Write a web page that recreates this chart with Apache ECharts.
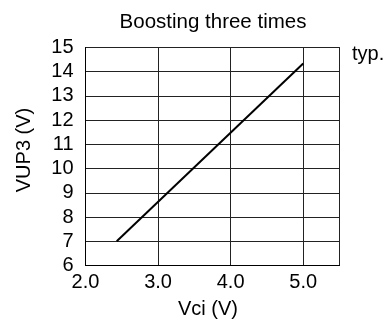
<!DOCTYPE html>
<html>
<head>
<meta charset="utf-8">
<script src="https://cdn.jsdelivr.net/npm/echarts@6/dist/echarts.min.js"></script>
<style>
html,body{margin:0;padding:0;background:#fff;}
#c{width:388px;height:326px;}
</style>
</head>
<body>
<div id="c"></div>
<script>
const titleText = "Boosting three times";
const xName = "Vci (V)";
const yName = "VUP3 (V)";
const noteText = "typ.";
const vciValues = [2.43, 5.0];
const vup3Values = [7.0, 14.34];
const xTicks = [2.0, 3.0, 4.0, 5.0];
const yTicks = [6, 7, 8, 9, 10, 11, 12, 13, 14, 15];

const FONT = "Liberation Sans, Arial, sans-serif";
const chart = echarts.init(document.getElementById('c'), null, {renderer: 'canvas'});
chart.setOption({
  animation: false,
  backgroundColor: '#fff',
  grid: {left: 85.5, top: 47.5, right: 48.5, bottom: 60.5, show: true, borderColor: '#000', borderWidth: 1, containLabel: false},
  title: {
    text: titleText, left: 208, top: 7, textAlign: 'center',
    textStyle: {fontFamily: FONT, fontSize: 20.5, fontWeight: 'normal', color: '#000'}
  },
  xAxis: {
    type: 'value', min: xTicks[0], max: 5.5, interval: 1,
    axisLine: {show: true, lineStyle: {color: '#000', width: 1}},
    axisTick: {show: false},
    splitLine: {show: true, lineStyle: {color: '#222', width: 1}},
    axisLabel: {margin: 7, fontFamily: FONT, fontSize: 20, color: '#000',
      formatter: v => xTicks.indexOf(v) >= 0 ? v.toFixed(1) : ''}
  },
  yAxis: {
    type: 'value', min: yTicks[0], max: yTicks[yTicks.length - 1], interval: 1,
    axisLine: {show: true, lineStyle: {color: '#000', width: 1}},
    axisTick: {show: false},
    splitLine: {show: true, lineStyle: {color: '#222', width: 1}},
    axisLabel: {margin: 12, fontFamily: FONT, fontSize: 20, color: '#000'}
  },
  graphic: [
    {type: 'text', left: 352, top: 44, style: {text: noteText, font: '20px ' + FONT, fill: '#000'}},
    {type: 'text', x: 208, y: 309, style: {text: xName, font: '20px ' + FONT, fill: '#000', align: 'center', verticalAlign: 'middle'}},
    {type: 'text', x: 24, y: 150, rotation: Math.PI / 2, style: {text: yName, font: '20px ' + FONT, fill: '#000', align: 'center', verticalAlign: 'middle'}}
  ],
  series: [{
    type: 'line',
    data: vciValues.map((x, i) => [x, vup3Values[i]]),
    symbol: 'none',
    lineStyle: {color: '#000', width: 2}
  }]
});
</script>
</body>
</html>
